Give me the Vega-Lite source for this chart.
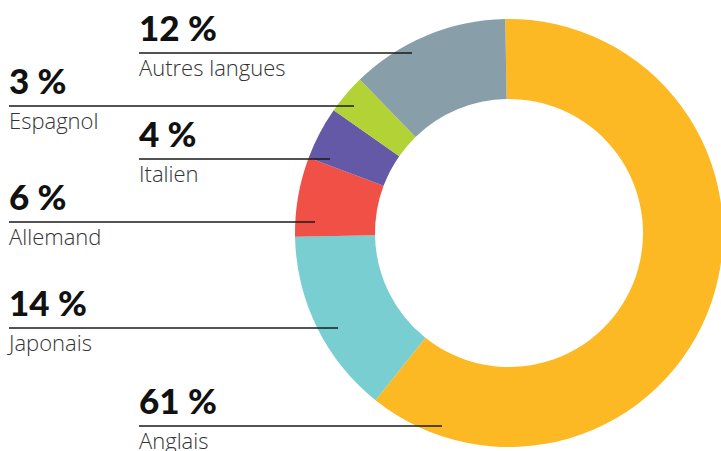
{
  "$schema": "https://vega.github.io/schema/vega-lite/v6.json",
  "autosize": {"type": "none"},
  "padding": {"left": 299, "top": 19, "right": 2, "bottom": 4},
  "width": 420,
  "height": 428,
  "background": "white",
  "config": {"view": {"stroke": null}},
  "data": {
    "values": [
      {"rank": 1, "lang": "Anglais", "value": 61, "label": "61 %"},
      {"rank": 2, "lang": "Japonais", "value": 14, "label": "14 %"},
      {"rank": 3, "lang": "Allemand", "value": 6, "label": "6 %"},
      {"rank": 4, "lang": "Italien", "value": 4, "label": "4 %"},
      {"rank": 5, "lang": "Espagnol", "value": 3, "label": "3 %"},
      {"rank": 6, "lang": "Autres langues", "value": 12, "label": "12 %"}
    ]
  },
  "layer": [
    {
      "mark": {"type": "arc", "outerRadius": 214, "innerRadius": 134},
      "encoding": {
        "theta": {"field": "value", "type": "quantitative", "stack": true,
                  "scale": {"range": [-0.0175, 6.2657]}},
        "order": {"field": "rank", "type": "quantitative", "sort": "ascending"},
        "color": {
          "field": "lang",
          "type": "nominal",
          "legend": null,
          "scale": {
            "domain": ["Anglais", "Japonais", "Allemand", "Italien", "Espagnol", "Autres langues"],
            "range": ["#FDB924", "#79CED1", "#F05045", "#6459A6", "#B2D235", "#889EA9"]
          }
        }
      }
    },
    {
      "mark": {"type": "tick", "orient": "horizontal", "thickness": 1.3, "color": "#1a1a1a", "opacity": 1},
      "encoding": {
        "x": {"field": "rank", "type": "quantitative", "axis": null,
              "scale": {"domain": [1, 2, 3, 4, 5, 6], "range": [-8.5, -125.5, -137, -64.5, -117.5, -23.5], "nice": false, "zero": false}},
        "y": {"field": "rank", "type": "quantitative", "axis": null,
              "scale": {"domain": [1, 2, 3, 4, 5, 6], "range": [407, 309, 203, 140, 87, 34], "nice": false, "zero": false}},
        "size": {"field": "rank", "type": "quantitative", "legend": null,
                 "scale": {"domain": [1, 2, 3, 4, 5, 6], "range": [303, 329, 306, 191, 345, 273], "zero": false}}
      }
    },
    {
      "mark": {"type": "text", "align": "left", "baseline": "alphabetic", "dy": -12.5, "font": "Lato", "fontWeight": 900, "fontSize": 35, "color": "#111111"},
      "encoding": {
        "x": {"field": "rank", "type": "quantitative", "axis": null,
              "scale": {"domain": [1, 2, 3, 4, 5, 6], "range": [-160, -290, -290, -160, -290, -160], "nice": false, "zero": false}},
        "y": {"field": "rank", "type": "quantitative", "axis": null,
              "scale": {"domain": [1, 2, 3, 4, 5, 6], "range": [407, 309, 203, 140, 87, 34], "nice": false, "zero": false}},
        "text": {"field": "label", "type": "nominal"}
      }
    },
    {
      "mark": {"type": "text", "align": "left", "baseline": "alphabetic", "dy": 22.5, "font": "Open Sans", "fontWeight": 300, "fontSize": 22, "color": "#333333"},
      "encoding": {
        "x": {"field": "rank", "type": "quantitative", "axis": null,
              "scale": {"domain": [1, 2, 3, 4, 5, 6], "range": [-160, -290, -290, -160, -290, -160], "nice": false, "zero": false}},
        "y": {"field": "rank", "type": "quantitative", "axis": null,
              "scale": {"domain": [1, 2, 3, 4, 5, 6], "range": [407, 309, 203, 140, 87, 34], "nice": false, "zero": false}},
        "text": {"field": "lang", "type": "nominal"}
      }
    }
  ],
  "resolve": {"scale": {"x": "independent", "y": "independent", "size": "independent"}}
}
